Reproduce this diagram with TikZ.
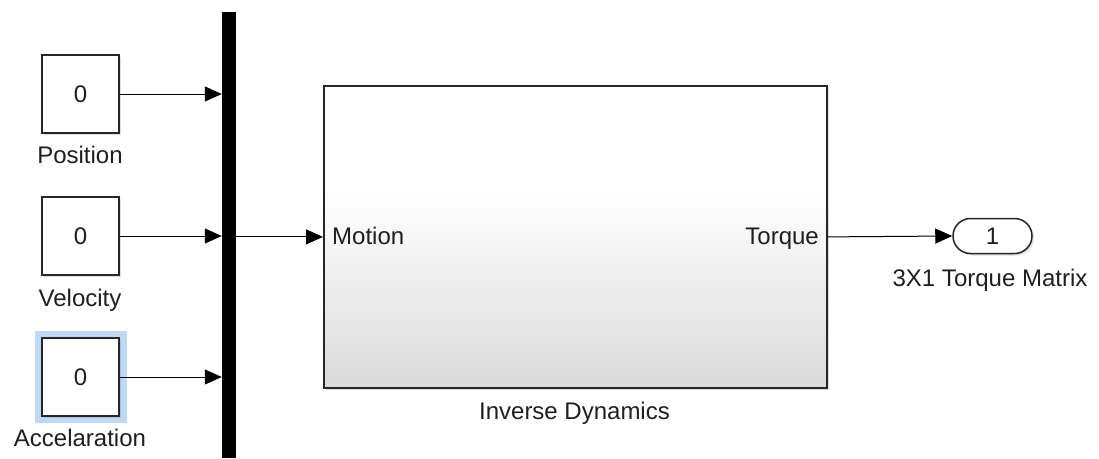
\documentclass[tikz,border=0pt]{standalone}
\usepackage{fontspec}
\setmainfont{Liberation Sans}
\usetikzlibrary{arrows.meta,shadows,shapes.misc}
\definecolor{hl}{RGB}{190,216,246}
\definecolor{grad}{RGB}{218,218,218}
\pgfdeclareverticalshading{subshade}{100bp}{color(0bp)=(grad); color(25bp)=(grad); color(58bp)=(white); color(100bp)=(white)}
\tikzset{
  blk/.style={draw=black!85,line width=1.6pt,fill=white,minimum width=77pt,minimum height=78pt,inner sep=0pt,
    drop shadow={opacity=0.25,shadow xshift=2pt,shadow yshift=-2pt}},
  lbl/.style={font=\fontsize{24}{28}\selectfont,text=black!88,inner sep=0pt},
  sig/.style={line width=1pt,-{Triangle[length=17pt,width=15pt]}}
}
\begin{document}
\begin{tikzpicture}[x=1pt,y=-1pt]
\useasboundingbox (0,0) rectangle (1099,458);
% highlight
\fill[hl] (35,331) rectangle (127,423);
% constant blocks
\node[blk,lbl] (pos) at (80.5,94) {0};
\node[blk,lbl] (vel) at (80.5,236) {0};
\node[blk,lbl] (acc) at (80.5,377) {0};
\node[lbl,anchor=base] (poslbl) at (80,163) {Position};
\node[lbl,anchor=base] (vellbl) at (80,306) {Velocity};
\node[lbl,anchor=base] (acclbl) at (80,446) {Accelaration};
% bus
\node[fill=black,minimum width=14pt,minimum height=446pt,inner sep=0pt,anchor=north] (bus) at (229,12) {};
\draw[sig] (pos.east) -- (bus.west |- pos.east);
\draw[sig] (vel.east) -- (bus.west |- vel.east);
\draw[sig] (acc.east) -- (bus.west |- acc.east);
% subsystem
\node[draw=black!85,line width=1.8pt,shading=subshade,minimum width=503pt,minimum height=302pt,inner sep=0pt,anchor=north west,
  drop shadow={opacity=0.25,shadow xshift=2.5pt,shadow yshift=-2.5pt}] (sub) at (323,85) {};
\node[lbl,anchor=base west] (motion) at (332,244) {Motion};
\node[lbl,anchor=base east] (torque) at (819,244) {Torque};
\node[lbl,anchor=base] (sublbl) at (574.5,419) {Inverse Dynamics};
\draw[sig] (bus.east |- sub.west) -- (sub.west);
% outport
\node[draw=black!85,line width=1.5pt,fill=white,rounded rectangle,minimum width=79pt,minimum height=35pt,inner sep=0pt,lbl,
  drop shadow={opacity=0.25,shadow xshift=2pt,shadow yshift=-2pt}] (out) at (992.5,236) {1};
\node[lbl,anchor=base] (outlbl) at (990,286) {3X1 Torque Matrix};
\draw[sig] (sub.east) -- (out.west);
\end{tikzpicture}
\end{document}
